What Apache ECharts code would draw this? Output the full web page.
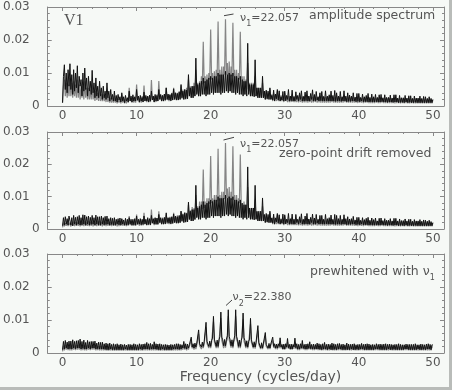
<!DOCTYPE html>
<html><head><meta charset="utf-8">
<script src="https://cdn.jsdelivr.net/npm/echarts@6/dist/echarts.min.js"></script>
<style>html,body{margin:0;padding:0;background:#f6f9f6}#c{width:452px;height:390px}</style>
</head><body><div id="c"></div>
<script>
// Frequency grid: value i sits at i*STEP cycles/day (0 … 50), 8 samples per cycle/day
const STEP = 0.125;
const xTickLabels = [0, 10, 20, 30, 40, 50];
const yTickLabels = [0, 0.01, 0.02, 0.03];
const panelTitles = ['amplitude spectrum', 'zero-point drift removed', 'prewhitened with '];
const peakLabels = ['=22.057', '=22.057', '=22.380'];
// amplitudes in units of 0.001, one row per cycle/day
const p1Black = [
1,9,12.5,5,10,4,11,6, 12.8,5,9.5,3.5,11,4.5,10,5.5, 12.2,4,9,6,8,3,10,4.5, 11.5,5,8.5,3,9,4.5,7.5,3.5,
10.8,4,7,2.5,8.5,3,6,2.5, 7.5,3,5.5,2,6,2.5,4.5,2, 7,2.5,4.5,1.5,5,2,3.5,1.5, 4.5,1.5,3.2,1.2,3.5,1.8,2.8,1.2,
4,1.5,2.8,1,3.2,1.5,2.5,1.2, 4.5,1.5,3,1.2,3.4,1.5,2.8,1.5, 5,1.8,3,1.2,3.2,1.5,2.6,1.2, 4.2,1.5,3.2,1.5,3,1.2,3.3,1.5,
4.5,1.8,3,1.2,3.5,1.5,3.2,1.5, 5,2,3.5,1.5,3.2,1.5,3.6,1.8, 5.5,2,3.6,1.8,3.4,1.6,3.8,1.8, 5.2,2,4,1.8,3.8,1.8,4.2,2,
6.5,2.5,4.5,2,5,2.2,4.8,2.2, 9.5,3,5.5,2.5,6,2.5,6,3, 14.5,3.5,6.5,3,7,3,7.5,3.5, 8.5,3.5,7.5,3,8,3.5,8.5,3.5,
9,4,8.5,3.5,9,4,9,4, 10,4,9.5,3.5,9.5,4,9.5,4, 10.5,4.5,9.5,4,10,4.5,9.5,4, 10,4,9,3.5,9,4,8.5,3.5,
9,3.5,8,3,7.5,3.5,7.5,3, 19,3.5,6.5,3,6.5,3,6.5,2.8, 14,3,5.5,2.5,5.5,2.5,5.5,2.5, 9,2.5,4.5,2,4.8,2.2,4.5,2,
5.5,2,3.2,1.8,4.8,1.5,3.6,2.2, 5,1.8,4.6,1.5,2.8,1.8,4.4,1.5, 4.5,1.6,3.2,2,5,1.5,3,1.6, 4.8,1.5,2.8,1.5,4.3,2,3.2,1.5,
4,2,4.6,1.5,2.9,1.5,4.2,1.6, 4.6,1.5,3,1.5,3.8,2,4.9,1.5, 3.5,1.5,4.4,1.8,2.8,1.5,4,1.6, 4.4,1.5,2.9,1.5,4.6,1.6,3,1.5,
3.4,1.5,4.5,1.5,3.2,1.5,4.7,1.4, 4,1.5,3,1.5,4.4,1.4,2.8,1.5, 4.6,1.5,3,1.3,4,1.4,3.3,1.4, 3,1.5,4,1.5,2.7,1.3,3.8,1.4,
3.8,1.3,2.6,1.5,3.6,1.3,2.8,1.3, 3.2,1.3,3.8,1.2,2.6,1.3,3.6,1.2, 2.8,1.2,3.5,1.3,2.6,1.2,3.4,1.2, 3.5,1.3,2.5,1.2,3.4,1.2,2.6,1.1,
2.6,1.2,3.3,1.2,2.4,1.1,3.4,1.2, 3.4,1.2,2.4,1,3.2,1.1,2.5,1.1, 2.5,1,3.2,1.2,2.4,1,3.1,1.1, 3.1,1,2.3,1,3,1.1,2.4,1,
2.4,1,3,1,2.3,1,2.9,1, 2.8,1,2.3,1,2.8,1,2.3,1,
2];
const p1Grey = [
1,6,8,3,7,2.5,6.5,3, 8.5,3,7,2.5,7.5,3,6.5,2.5, 8,2.5,6.5,2,6,2.5,6,2, 7.5,2.5,5.5,2,5.5,2,5,2,
6.5,2,4.5,1.5,4.5,1.8,4,1.5, 5,1.5,3.5,1.5,3.5,1.5,3,1.2, 4,1.2,2.8,1,2.5,1,2.5,1, 3,1,2.2,0.8,2,1,2.2,0.8,
3.5,1,2.2,0.8,2,0.8,2.5,1, 5.5,1.5,2.5,1,2.5,1,2.5,1, 6.5,1.5,2.6,1,2.5,1,3,1.2, 6.2,1.5,2.8,1.2,2.8,1.2,3,1.2,
7.9,2,3,1.2,3,1.2,3.5,1.5, 7.6,2,3.2,1.5,3.2,1.5,3.5,1.5, 5.5,1.8,3.5,1.5,3.5,1.5,4,1.8, 5.5,2,4,1.8,4,1.8,4.5,2,
6,2.2,5,2,5,2,5.5,2.2, 8,3,6,2.5,6,2.5,7,3, 11,4,7,3,7.5,3,9,6.5, 19.5,7,9,3.5,9.5,3.5,10,8,
23.2,8,10,4,10.5,4,11,9, 25.6,9,11,4.5,12,4.5,12,9.5, 26.3,9.5,13,4.5,13.5,4.5,12,9, 25.2,9,11,4,11,4,10,8,
22.5,8,9,3.5,9,3.5,8,5, 13,4.5,7,3,7,3,7,3, 9,3,5.5,2.5,5.5,2.5,5,2.5, 7,2.5,4.5,2,4.5,2,4,2,
5,2,3.5,1.5,3.8,1.5,3.5,1.5, 4.5,1.5,3.2,1.5,3.2,1.5,3,1.2, 4,1.5,3,1.2,3.1,1.2,3,1.2, 3.5,1.2,3,1.2,2.9,1.2,2.8,1.1,
3.4,1.2,2.8,1,2.9,1.1,3,1.1, 3.2,1,3,1.2,2.8,1,2.8,1.1, 3.3,1.2,2.6,1,2.8,1.1,3,1, 3.2,1,2.8,1,2.7,1,2.6,1,
3,1,2.8,1.2,2.7,1,2.6,1, 3.2,1,2.6,1,2.7,1,2.8,1, 3,1.2,2.5,1,2.6,1,2.7,1, 2.8,1,2.6,1,2.5,1,2.5,0.9,
2.9,1,2.4,1,2.5,0.9,2.6,1, 2.7,1,2.5,0.9,2.4,0.9,2.4,0.9, 2.6,0.9,2.4,1,2.4,0.9,2.5,0.9, 2.6,1,2.3,0.9,2.4,0.9,2.4,0.9,
2.5,0.9,2.4,0.9,2.3,0.9,2.3,0.8, 2.4,0.9,2.2,0.9,2.3,0.8,2.4,0.9, 2.3,0.8,2.2,0.9,2.2,0.8,2.2,0.8, 2.3,0.9,2.1,0.8,2.2,0.8,2.2,0.8,
2.2,0.8,2.1,0.8,2.1,0.8,2,0.8, 2.1,0.8,2,0.8,2,0.8,2,0.8,
1.8];
const p2Black = [
1,3.5,1.2,3.8,1.5,3.2,1.2,4, 4,1.2,3.5,1,4.2,1.5,3.6,1.2, 3.8,1.5,4.2,1.2,3.5,1.3,4.4,1.5, 4.3,1.2,3.8,1.5,4,1.2,3.6,1.4,
4.2,1.5,3.5,1.2,4.3,1.5,3.8,1.2, 3.8,1.2,4,1.5,3.5,1.3,3.9,1.4, 4,1.5,3.2,1.2,3.5,1.4,3.3,1.2, 3.5,1.2,3,1.5,3.2,1.3,3.4,1.2,
3.2,1.5,2.8,1.2,3.3,1.2,3,1.3, 3.5,1.5,3,1.2,3,1.3,3.2,1.2, 4,1.5,3,1.5,3.2,1.3,3,1.4, 4,1.5,3,1.2,3.5,1.4,3.2,1.3,
4.2,1.8,3.2,1.5,3.5,1.5,3.4,1.5, 4.5,2,3.5,1.5,3.2,1.5,3.6,1.6, 5,2,3.5,1.8,3.5,1.6,3.8,1.8, 4.6,2,4,1.8,3.8,1.8,4.2,2,
5.5,2.5,4.5,2,5,2.2,4.8,2.2, 8.3,3,5.5,2.5,6,2.5,6,3, 13.5,3.5,6.5,3,7,3,7.5,3.5, 8.5,3.5,7.5,3,8,3.5,8.5,3.5,
9,4,8.5,3.5,9,4,9,4, 10,4,9.5,3.5,9.5,4,9.5,4, 10.5,4.5,9.5,4,10,4.5,9.5,4, 10,4,9,3.5,9,4,8.5,3.5,
9,3.5,8,3,7.5,3.5,7.5,3, 19.2,3.5,6.5,3,6.5,3,6.5,2.8, 13.5,3,5.5,2.5,5.5,2.5,5.5,2.5, 9.6,2.5,4.5,2,4.8,2.2,4.5,2,
5.5,2,3.4,1.8,4.6,1.5,3.4,2.2, 4.8,1.8,4.4,1.5,3,1.8,4.6,1.5, 4.4,1.6,3,2,4.8,1.5,3.2,1.6, 4.6,1.5,3,1.5,4.5,2,3,1.5,
3.8,2,4.7,1.5,3,1.5,4,1.6, 4.8,1.5,3.1,1.5,3.6,2,4.6,1.5, 3.4,1.5,4.5,1.8,3,1.5,4.2,1.6, 4.2,1.5,3,1.5,4.5,1.6,3.2,1.5,
3.5,1.5,4.3,1.5,3,1.5,4.5,1.4, 4.2,1.5,3.2,1.5,4.2,1.4,3,1.5, 4.4,1.5,3.2,1.3,3.8,1.4,3.1,1.4, 3.2,1.5,3.9,1.5,2.8,1.3,3.6,1.4,
3.6,1.3,2.7,1.5,3.5,1.3,2.9,1.3, 3.3,1.3,3.6,1.2,2.7,1.3,3.4,1.2, 2.9,1.2,3.4,1.3,2.5,1.2,3.3,1.2, 3.4,1.3,2.6,1.2,3.2,1.2,2.7,1.1,
2.7,1.2,3.2,1.2,2.5,1.1,3.3,1.2, 3.3,1.2,2.5,1,3.1,1.1,2.6,1.1, 2.6,1,3.1,1.2,2.5,1,3,1.1, 3,1,2.4,1,2.9,1.1,2.5,1,
2.5,1,2.9,1,2.4,1,2.8,1, 2.7,1,2.4,1,2.7,1,2.3,1,
2];
const p2Grey = [
0.5,2,0.8,1.8,1,2.2,0.9,2, 2.2,0.8,2,1,2.3,0.9,2.1,1, 2,1,2.4,0.8,2.2,1,2.3,0.9, 2.4,1,2,1,2.5,0.9,2.2,1,
2.2,0.8,2.3,1,2,0.9,2.4,1, 2.5,1,2.2,0.8,2.4,1,2.1,0.9, 2.3,1,2,1,2.2,0.9,2.3,1, 2.5,1,2.2,0.8,2,0.9,2.2,1,
3,1,2,1,2.4,0.9,2.3,1, 4,1.2,2.4,1,2.5,1,2.4,1, 4.5,1.3,2.5,1,2.8,1,2.6,1.1, 5,1.5,2.8,1.2,3,1.2,2.9,1.2,
6,1.8,3,1.2,3.4,1.3,3.2,1.3, 5.5,1.8,3.2,1.5,3.5,1.5,3.4,1.5, 4.5,1.6,3.4,1.5,3.8,1.5,3.6,1.6, 5,2,3.8,1.8,4.2,1.8,4,1.9,
5.5,2.2,4.8,2,5.2,2,5,2.2, 7.5,2.8,5.8,2.5,6.8,2.5,6.5,2.8, 10.5,3.8,7,3,8.5,3,8.5,6.2, 18.4,6.5,8.5,3.5,9.5,3.5,9.5,7.8,
22.6,8,9.5,4,10.5,4,10.5,8.5, 24.8,8.8,10.5,4.5,11.5,4.5,11.5,9.3, 26.6,9.5,12.5,4.5,13,4.5,11.5,9, 25.6,9,10.5,4,10.5,4,9.5,8,
23,8,8.5,3.5,8.5,3.5,7.5,4.8, 13,4.5,6.5,3,6.5,3,6.5,3, 9,3,5.2,2.5,5,2.5,4.8,2.4, 7,2.5,4.3,2,4.2,2,3.8,1.9,
5,2,3.5,1.5,3.8,1.5,3.5,1.5, 4.5,1.5,3.2,1.5,3.2,1.5,3,1.2, 4,1.5,3,1.2,3.1,1.2,3,1.2, 3.5,1.2,3,1.2,2.9,1.2,2.8,1.1,
3.4,1.2,2.8,1,2.9,1.1,3,1.1, 3.2,1,3,1.2,2.8,1,2.8,1.1, 3.3,1.2,2.6,1,2.8,1.1,3,1, 3.2,1,2.8,1,2.7,1,2.6,1,
3,1,2.8,1.2,2.7,1,2.6,1, 3.2,1,2.6,1,2.7,1,2.8,1, 3,1.2,2.5,1,2.6,1,2.7,1, 2.8,1,2.6,1,2.5,1,2.5,0.9,
2.9,1,2.4,1,2.5,0.9,2.6,1, 2.7,1,2.5,0.9,2.4,0.9,2.4,0.9, 2.6,0.9,2.4,1,2.4,0.9,2.5,0.9, 2.6,1,2.3,0.9,2.4,0.9,2.4,0.9,
2.5,0.9,2.4,0.9,2.3,0.9,2.3,0.8, 2.4,0.9,2.2,0.9,2.3,0.8,2.4,0.9, 2.3,0.8,2.2,0.9,2.2,0.8,2.2,0.8, 2.3,0.9,2.1,0.8,2.2,0.8,2.2,0.8,
2.2,0.8,2.1,0.8,2.1,0.8,2,0.8, 2.1,0.8,2,0.8,2,0.8,2,0.8,
1.8];
const p3Black = [
1,3.5,1.2,3.8,1.5,3.3,1.2,3.6, 1.3,3.6,1.2,4,1.5,3.5,1.3,3.7, 1.5,3.8,1.5,4.2,1.2,3.5,1.4,3.9, 1.2,3.2,1.2,3.8,1.5,3.4,1.2,3.5,
1.5,3.5,1.5,3.6,1.2,3,1.3,3.3, 1.2,3.2,1.2,3.3,1.2,2.8,1.1,3, 1,2.8,1,3,1.2,2.6,1,2.8, 1,2.6,1,2.8,1,2.5,1,2.7,
1,2.5,1,2.6,1.2,2.4,1,2.6, 1,2.6,1,2.5,1,2.8,1,2.6, 1,2.5,1,2.8,1.2,2.6,1,2.7, 1.2,2.8,1.2,3.2,1.2,2.8,1.1,2.9,
1.2,2.6,1.2,3.4,1.2,2.8,1.1,2.7, 1,2.8,1,2.6,1.2,2.5,1,2.6, 1,2.5,1,2.4,1,2.6,1,2.5, 1.2,2.6,1.2,2.8,1.2,2.8,1.1,2.6,
1.2,2.5,1.5,3.5,1.4,2.8,1.2,2.7, 1.5,2.5,2,4.8,1.8,2.8,1.5,3, 1.8,3,3,7,2.8,3.2,1.8,3.3, 2,3.5,3.8,9.3,3.5,3.5,2,3.6,
2,3.8,4.5,11.1,4.2,3.8,2,3.9, 2,4,5,12.4,4.8,4,2.2,4.1, 2.2,4.2,5.2,13.1,5,4,2.2,4, 2,4,5.2,13.1,5,4,2,3.9,
2,3.8,4.8,12.1,4.6,3.8,2,3.7, 1.8,3.5,4.2,10.5,4,3.5,1.8,3.4, 1.8,3.2,3.5,8.3,3.2,3.2,1.5,3.1, 1.5,3,2.8,6.2,2.6,3,1.5,2.9,
1.5,2.8,2.2,4.8,2,2.8,1.5,2.7, 1.5,2.8,2,4.6,1.8,2.6,1.2,2.7, 1.2,2.8,1.8,4.4,1.6,2.6,1.2,2.7, 1.2,2.6,1.8,4.5,1.6,2.8,1.2,2.6,
1.2,2.8,1.5,3.8,1.4,2.6,1.2,2.7, 1.2,2.8,1.4,3.4,1.3,2.6,1.2,2.7, 1.2,2.6,1.2,3,1.2,2.8,1.1,2.6, 1,2.8,1.2,3.2,1.2,2.6,1,2.7,
1.2,2.6,1,3,1,2.8,1.1,2.6, 1,2.8,1.2,2.9,1.2,2.6,1,2.7, 1,2.5,1,3,1,2.7,1,2.6, 1.2,2.7,1,2.8,1,2.5,1.1,2.6,
1,2.6,1.2,2.9,1.2,2.6,1,2.7, 1,2.8,1,2.7,1,2.5,1,2.6, 1,2.5,1.2,2.8,1.2,2.6,1.1,2.7, 1,2.6,1,2.7,1,2.8,1,2.6,
1.2,2.7,1,2.6,1,2.5,1.1,2.6, 1,2.6,1,2.8,1,2.6,1,2.5, 1,2.5,1.2,2.7,1.2,2.6,1,2.6, 1,2.6,1,2.6,1,2.8,1,2.5,
1.2,2.5,1,2.7,1,2.6,1.1,2.5, 1,2.7,1.2,2.8,1.2,2.6,1,2.5,
2.4];
const p3Grey = [
0.5,2.2,0.8,2.5,1,2.2,0.9,2.3, 0.8,2.4,0.8,2.6,1,2.2,0.9,2.4, 1,2.5,1,2.8,0.8,2.3,0.9,2.4, 0.8,2.2,0.8,2.5,1,2.2,0.9,2.3,
1,2.3,1,2.4,0.8,2,0.9,2.1, 0.8,2.1,0.8,2.2,0.8,1.9,0.8,2, 0.7,1.9,0.7,2,0.8,1.8,0.7,1.9, 0.7,1.8,0.7,1.9,0.7,1.7,0.7,1.8,
0.7,1.7,0.7,1.8,0.8,1.6,0.7,1.7, 0.7,1.8,0.7,1.7,0.7,1.9,0.7,1.8, 0.7,1.7,0.7,1.9,0.8,1.8,0.7,1.8, 0.8,1.9,0.8,2.2,0.8,1.9,0.8,2,
0.8,1.8,0.8,2.3,0.8,1.9,0.8,1.9, 0.7,1.9,0.7,1.8,0.8,1.7,0.7,1.8, 0.7,1.7,0.7,1.8,0.7,1.8,0.7,1.8, 0.8,1.8,0.8,2,0.8,1.9,0.8,1.9,
0.8,1.8,1,2.6,1,2,0.8,2, 1,2,1.5,3.8,1.4,2.2,1,2.3, 1.2,2.4,2.3,5.8,2.2,2.6,1.2,2.7, 1.5,2.8,3,7.8,2.9,3,1.5,3.1,
1.5,3.2,3.6,9.5,3.4,3.2,1.5,3.3, 1.5,3.4,4,10.6,3.8,3.4,1.5,3.5, 1.6,3.5,4.2,11.2,4,3.4,1.6,3.4, 1.5,3.4,4.2,11.1,4,3.3,1.5,3.3,
1.5,3.2,3.8,10.2,3.6,3.2,1.5,3.1, 1.4,3,3.4,8.8,3.2,3,1.4,2.9, 1.3,2.8,2.8,6.8,2.6,2.7,1.2,2.6, 1.2,2.6,2.2,5,2,2.5,1.2,2.4,
1.2,2.4,1.8,3.8,1.6,2.3,1.2,2.3, 1.1,2.3,1.5,3.5,1.4,2.2,1,2.2, 1,2.2,1.4,3.3,1.3,2.1,1,2.1, 1,2.1,1.3,3.2,1.2,2,0.9,2,
0.9,2,1.2,2.8,1.1,2.1,0.9,2, 0.9,2.1,1.1,2.5,1,2,0.9,2, 0.9,2,1,2.3,0.9,2.1,0.9,2, 0.8,2,0.9,2.2,0.9,2,0.8,2,
0.8,2.1,0.9,2.1,0.8,2,0.8,1.9, 0.8,2,0.9,2.2,0.9,2,0.8,2, 0.8,1.9,0.8,2.1,0.9,2,0.8,2, 0.8,2,0.9,2,0.8,2.1,0.8,1.9,
0.8,2,0.9,2.1,0.9,2,0.8,2, 0.8,2.1,0.8,2,0.8,1.9,0.8,2, 0.8,1.9,0.9,2,0.9,2,0.8,2, 0.8,2,0.8,2.1,0.8,2,0.8,1.9,
0.8,2,0.9,2,0.8,1.9,0.8,2, 0.8,1.9,0.8,2,0.8,2,0.8,1.9, 0.8,2,0.9,2,0.9,1.9,0.8,2, 0.8,1.9,0.8,2,0.8,2,0.8,1.9,
0.8,1.9,0.8,2,0.8,1.9,0.8,1.9, 0.8,2,0.8,1.9,0.8,1.9,0.8,1.9,
1.8];

const panels = [
  {grey: p1Grey, black: p1Black, top: 7, height: 99},
  {grey: p2Grey, black: p2Black, top: 132, height: 97},
  {grey: p3Grey, black: p3Black, top: 254, height: 99}
];

const FONT = 'DejaVu Sans';
const TXT = '#555555';
const AX = '#888888';
const toPts = arr => arr.map((v, i) => [Math.round(i * STEP * 1000) / 1000, v / 1000]);

const grid = [], xAxis = [], yAxis = [], series = [];
panels.forEach((p, k) => {
  grid.push({left: 45, right: 8, top: p.top, height: p.height});
  const base = {gridIndex: k, type: 'value', min: -2, max: 51.5, splitLine: {show: false}};
  xAxis.push(Object.assign({}, base, {
    position: 'bottom',
    axisLine: {show: true, onZero: false, lineStyle: {color: AX, width: 1}},
    axisTick: {show: false},
    axisLabel: {margin: 4, color: TXT, fontSize: 12, fontFamily: FONT,
      formatter: v => xTickLabels.indexOf(v) >= 0 ? String(v) : ''}
  }));
  xAxis.push(Object.assign({}, base, {
    position: 'top', interval: 2,
    axisLine: {show: true, onZero: false, lineStyle: {color: AX, width: 1}},
    axisTick: {show: true, inside: true, length: 2, lineStyle: {color: AX}},
    axisLabel: {show: false}
  }));
  xAxis.push(Object.assign({}, base, {
    position: 'top',
    axisLine: {show: false, onZero: false},
    axisTick: {show: true, inside: true, length: 4, lineStyle: {color: AX}},
    axisLabel: {show: false}
  }));
  const ybase = {gridIndex: k, type: 'value', min: 0, max: 0.03, interval: 0.01, splitLine: {show: false},
    axisLine: {show: true, onZero: false, lineStyle: {color: AX, width: 1}},
    axisTick: {show: true, inside: true, length: 4, lineStyle: {color: AX}},
    minorTick: {show: true, splitNumber: 5, length: 2, lineStyle: {color: AX}}};
  yAxis.push(Object.assign({}, ybase, {
    position: 'left',
    axisLabel: {margin: 8, color: TXT, fontSize: 12, fontFamily: FONT,
      formatter: v => {
        const t = yTickLabels.find(y => Math.abs(y - v) < 1e-9);
        if (t === undefined) return '';
        return t === 0 ? '{z|0}' : '{a|' + t.toFixed(2) + '}';
      },
      rich: {
        z: {color: TXT, fontSize: 12, fontFamily: FONT},
        a: {color: TXT, fontSize: 12, fontFamily: FONT, padding: [0, 10, 0, 0]}
      }}
  }));
  yAxis.push(Object.assign({}, ybase, {position: 'right', axisLabel: {show: false}}));
  series.push({type: 'line', xAxisIndex: 3 * k, yAxisIndex: 2 * k, data: toPts(p.grey),
    symbol: 'none', silent: true, clip: true, z: 2,
    lineStyle: {color: '#858585', width: 1.2}, itemStyle: {color: '#858585'}});
  series.push({type: 'line', xAxisIndex: 3 * k, yAxisIndex: 2 * k, data: toPts(p.black),
    symbol: 'none', silent: true, clip: true, z: 3,
    lineStyle: {color: '#111', width: 1}, itemStyle: {color: '#111'}});
});

const txtStyle = (text, x, y, size, extra) => ({
  type: 'text', z: 50,
  style: Object.assign({text: text, x: x, y: y, fill: TXT, font: size + 'px "' + FONT + '"',
    align: 'left', verticalAlign: 'middle', textAlign: 'left', textVerticalAlign: 'middle'}, extra || {})
});
const nuRich = {
  a: {fontSize: 11, fontFamily: FONT, fill: TXT, lineHeight: 20},
  s: {fontSize: 8, fontFamily: FONT, fill: TXT, lineHeight: 10, verticalAlign: 'bottom'}
};
const titleRich = {
  a: {fontSize: 12.5, fontFamily: FONT, fill: TXT, lineHeight: 20},
  s: {fontSize: 8, fontFamily: FONT, fill: TXT, lineHeight: 10, verticalAlign: 'bottom'}
};

const graphic = [
  {type: 'rect', shape: {x: 449, y: 0, width: 3, height: 390}, style: {fill: '#b9bcb9'}, z: 60},
  {type: 'rect', shape: {x: 0, y: 387, width: 452, height: 3}, style: {fill: '#b9bcb9'}, z: 60},
  txtStyle('V1', 64, 21, 16, {font: '16px "Liberation Serif"'}),
  txtStyle('{a|ν}{s|1}{a|' + peakLabels[0] + '}', 240, 18, 11, {rich: nuRich}),
  txtStyle(panelTitles[0], 309, 16, 12.5),
  txtStyle('{a|ν}{s|1}{a|' + peakLabels[1] + '}', 240, 144, 11, {rich: nuRich}),
  txtStyle(panelTitles[1], 279, 153.5, 12.5),
  txtStyle('{a|' + panelTitles[2] + 'ν}{s|1}', 310, 272, 12.5, {rich: titleRich}),
  txtStyle('{a|ν}{s|2}{a|' + peakLabels[2] + '}', 232.5, 297.5, 11, {rich: nuRich}),
  txtStyle('Frequency (cycles/day)', 260.5, 377, 14, {align: 'center', textAlign: 'center'}),
  {type: 'line', z: 50, shape: {x1: 224, y1: 15.7, x2: 233.5, y2: 14}, style: {stroke: '#444', lineWidth: 1}},
  {type: 'line', z: 50, shape: {x1: 223.5, y1: 140, x2: 234, y2: 137.3}, style: {stroke: '#444', lineWidth: 1}},
  {type: 'line', z: 50, shape: {x1: 226, y1: 305.5, x2: 232, y2: 300}, style: {stroke: '#444', lineWidth: 1}}
];

const chart = echarts.init(document.getElementById('c'), null, {renderer: 'canvas'});
chart.setOption({
  backgroundColor: '#f6f9f6',
  animation: false,
  grid: grid, xAxis: xAxis, yAxis: yAxis, series: series, graphic: graphic
});
</script></body></html>
